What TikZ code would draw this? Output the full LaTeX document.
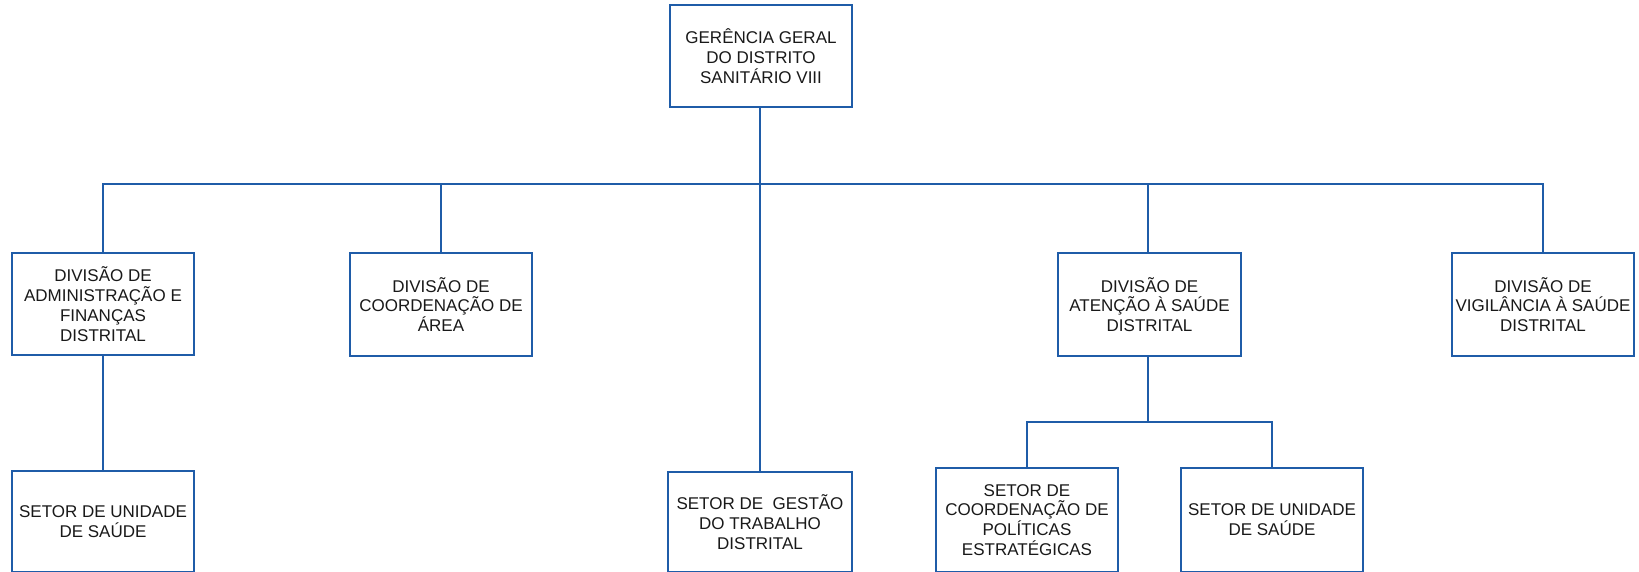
\documentclass[tikz,border=0pt]{standalone}
\usepackage{fontspec}
\setmainfont{Liberation Sans}
\definecolor{orgblue}{RGB}{31,92,168}
\begin{document}
\begin{tikzpicture}[x=1pt,y=-1pt,
  box/.style={draw=orgblue,line width=1.8pt,fill=white,rectangle,inner sep=1pt,
    align=center,font=\fontsize{17}{19.8}\selectfont,text=black!90},
  link/.style={draw=orgblue,line width=1.8pt}]
\useasboundingbox (0,0) rectangle (1639,571);
% nodes
\node[box,minimum width=182pt,minimum height=102pt] (G) at (761,56) {GERÊNCIA GERAL\\DO DISTRITO\\SANITÁRIO VIII};
\node[box,minimum width=182pt,minimum height=102pt] (D1) at (103,304) {DIVISÃO DE\\ADMINISTRAÇÃO E\\FINANÇAS\\DISTRITAL};
\node[box,minimum width=182pt,minimum height=103pt] (D2) at (441,304.5) {DIVISÃO DE\\COORDENAÇÃO DE\\ÁREA};
\node[box,minimum width=183pt,minimum height=103pt] (D4) at (1149.5,304.5) {DIVISÃO DE\\ATENÇÃO À SAÚDE\\DISTRITAL};
\node[box,minimum width=182pt,minimum height=103pt] (D5) at (1543,304.5) {DIVISÃO DE\\VIGILÂNCIA À SAÚDE\\DISTRITAL};
\node[box,minimum width=182pt,minimum height=101pt] (S1) at (103,521.5) {SETOR DE UNIDADE\\DE SAÚDE};
\node[box,minimum width=184pt,minimum height=100pt] (S3) at (760,522) {SETOR DE\ \ GESTÃO\\DO TRABALHO\\DISTRITAL};
\node[box,minimum width=182pt,minimum height=104pt] (S4) at (1027,520) {SETOR DE\\COORDENAÇÃO DE\\POLÍTICAS\\ESTRATÉGICAS};
\node[box,minimum width=182pt,minimum height=104pt] (S5) at (1272,520) {SETOR DE UNIDADE\\DE SAÚDE};
% buses
\coordinate (bus) at (760,184);
\coordinate (bus2) at (1148,422);
% connectors
\draw[link] (G.south -| bus) -- (S3.north -| bus);
\draw[link] (D1.north) |- (bus) -| (D5.north);
\draw[link] (D2.north) -- (D2.north |- bus);
\draw[link] (D4.north -| bus2) -- (bus2 |- bus);
\draw[link] (D1.south) -- (S1.north);
\draw[link] (D4.south -| bus2) -- (bus2);
\draw[link] (S4.north) |- (bus2) -| (S5.north);
\end{tikzpicture}
\end{document}
